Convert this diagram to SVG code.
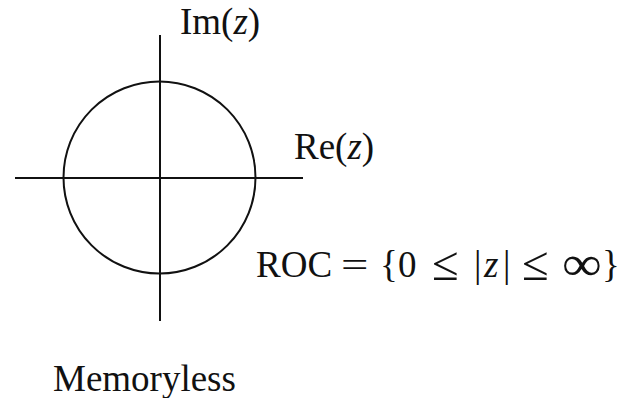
<svg xmlns="http://www.w3.org/2000/svg" width="621" height="398" viewBox="0 0 621 398">
<style>
.ax{stroke:#111;stroke-width:2;fill:none}
.t{font-family:"Liberation Serif","Times New Roman",serif;font-size:37px;fill:#111}
.s{font-family:"Liberation Serif","Times New Roman",serif;font-size:36px;fill:#111}
.i{font-style:italic}
</style>
<rect width="621" height="398" fill="#fff"/>
<g id="axes">
<line class="ax" x1="15" y1="178" x2="303" y2="178"/>
<line class="ax" x1="160" y1="35" x2="160" y2="321"/>
</g>
<g id="roc-circle">
<circle class="ax" cx="159.5" cy="177.5" r="96"/>
</g>
<g id="labels">
<text class="t" x="180" y="34">Im(<tspan class="i">z</tspan>)</text>
<text class="t" x="294" y="159">Re(<tspan class="i">z</tspan>)</text>
<g id="roc">
<text class="t" y="277"><tspan x="256">ROC</tspan><tspan x="380">{</tspan><tspan x="398">0</tspan><tspan x="474">|</tspan><tspan x="484" class="i">z</tspan><tspan x="503">|</tspan><tspan x="602">}</tspan></text>
<text class="s" transform="translate(341,277) scale(1.35,1)">=</text>
<text class="s" transform="translate(432,280) scale(1.35)">≤</text>
<text class="s" transform="translate(522,280) scale(1.35)">≤</text>
<text class="s" transform="translate(562,280) scale(1.55,1.35)">∞</text>
</g>
<text class="t" x="53" y="391">Memoryless</text>
</g>
</svg>
